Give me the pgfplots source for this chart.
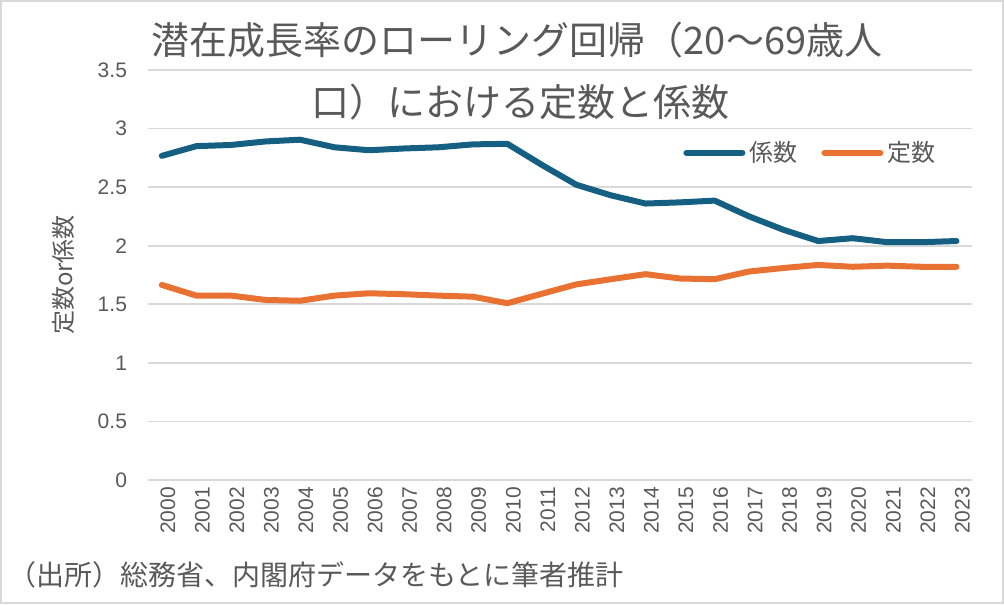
\documentclass[border=0pt]{standalone}
\usepackage{pgfplots}
\pgfplotsset{compat=1.18}
\usepackage{fontspec}
\setmainfont{Liberation Sans}
\newfontfamily\jp{Noto Sans CJK JP}
\definecolor{cblue}{HTML}{156082}
\definecolor{corange}{HTML}{E97132}
\definecolor{tgray}{HTML}{595959}
\definecolor{ggray}{HTML}{D9D9D9}
\begin{document}
\begin{tikzpicture}
\useasboundingbox (-74pt,-62pt) rectangle (428pt,240pt);
\draw[ggray, line width=1pt] (-73.5pt,-61.5pt) rectangle (427.5pt,239.5pt);
\begin{axis}[
  at={(0,0)}, anchor=origin,
  scale only axis, width=412pt, height=205pt,
  xmin=1999.6, xmax=2023.45, ymin=0, ymax=3.5,
  ytick={0,0.5,...,3.5},
  xtick={2000,...,2023},
  /pgf/number format/assume math mode=true,
  xticklabel={\pgfmathprintnumber[1000 sep={}]{\tick}},
  yticklabel style={/pgf/number format/fixed, font=\fontsize{10.5}{12}\selectfont, text=tgray},
  xticklabel style={rotate=90, anchor=east, font=\fontsize{10.5}{12}\selectfont, text=tgray},
  yticklabel style={xshift=-7pt},
  xticklabel style={yshift=-3pt},
  axis line style={draw=none},
  major tick length=0pt,
  ymajorgrids, grid style={ggray, line width=0.8pt},
  legend style={at={(0.642,0.798)}, anchor=west, draw=none, fill=none,
     font=\jp\fontsize{12}{14}\selectfont, text=tgray, legend columns=2,
     /tikz/every even column/.append style={column sep=10pt}},
  legend image code/.code={\draw[#1, line cap=round] (0pt,0pt) -- (28pt,0pt);},
  clip=false,
]
\addplot[cblue, line width=3pt, line cap=round, line join=round] coordinates {
(2000,2.767) (2001,2.85) (2002,2.86) (2003,2.89) (2004,2.905) (2005,2.84)
(2006,2.815) (2007,2.83) (2008,2.84) (2009,2.865) (2010,2.87) (2011,2.69)
(2012,2.52) (2013,2.43) (2014,2.36) (2015,2.37) (2016,2.385) (2017,2.25)
(2018,2.135) (2019,2.04) (2020,2.064) (2021,2.03) (2022,2.03) (2023,2.04)};
\addlegendentry{係数}
\addplot[corange, line width=3pt, line cap=round, line join=round] coordinates {
(2000,1.665) (2001,1.574) (2002,1.574) (2003,1.537) (2004,1.53) (2005,1.574)
(2006,1.594) (2007,1.586) (2008,1.574) (2009,1.565) (2010,1.509) (2011,1.59)
(2012,1.67) (2013,1.714) (2014,1.757) (2015,1.72) (2016,1.714) (2017,1.78)
(2018,1.81) (2019,1.836) (2020,1.82) (2021,1.83) (2022,1.82) (2023,1.82)};
\addlegendentry{定数}
\end{axis}
\node[font=\jp\fontsize{12}{14}\selectfont, text=tgray, inner sep=0pt, rotate=90] at (-42.5pt,102.5pt) {定数or係数};
\node[font=\jp\fontsize{19}{22}\selectfont, text=tgray, inner sep=0pt] at (184.5pt,220pt) {潜在成長率のローリング回帰（20～69歳人};
\node[font=\jp\fontsize{19}{22}\selectfont, text=tgray, inner sep=0pt] at (186pt,189pt) {口）における定数と係数};
\node[font=\jp\fontsize{14}{16}\selectfont, text=tgray, inner sep=0pt, anchor=west] at (-70pt,-47.5pt) {（出所）総務省、内閣府データをもとに筆者推計};
\end{tikzpicture}
\end{document}
